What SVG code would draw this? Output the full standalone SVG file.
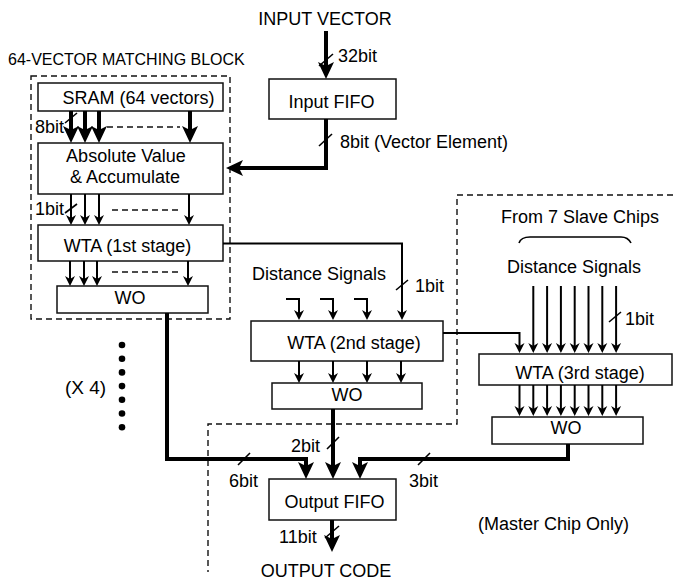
<svg xmlns="http://www.w3.org/2000/svg" width="673" height="582" viewBox="0 0 673 582">
<style>
text{font-family:"Liberation Sans",Arial,Helvetica,sans-serif;font-size:18px;fill:#000}
.box{fill:#fff;stroke:#111;stroke-width:1.5}
.dash{fill:none;stroke:#111;stroke-width:1.4;stroke-dasharray:6,4}
.thick{fill:none;stroke:#000;stroke-width:4;stroke-linejoin:miter}
.thin{fill:none;stroke:#000;stroke-width:2}
.tick{fill:none;stroke:#000;stroke-width:1.6}
.mid{text-anchor:middle}
</style>
<defs>
<marker id="ah" markerUnits="userSpaceOnUse" markerWidth="18" markerHeight="18" refX="7" refY="9" orient="auto">
<path d="M0,1 L17,9 L0,17 L4,9 z" fill="#000"/>
</marker>
<marker id="at" markerUnits="userSpaceOnUse" markerWidth="11" markerHeight="11" refX="4" refY="5.5" orient="auto">
<path d="M0,0.5 L10,5.5 L0,10.5 L3,5.5 z" fill="#000"/>
</marker>
</defs>
<rect width="673" height="582" fill="#fff"/>

<g id="matching-block">
<rect class="dash" x="31" y="76" width="199" height="243"/>
<text x="8" y="65" style="font-size:16px">64-VECTOR MATCHING BLOCK</text>
</g>
<g id="master-region">
<path class="dash" d="M673,195 H457 V424 H208 V572"/>
<text x="478" y="530">(Master Chip Only)</text>
</g>

<g id="sram">
<rect class="box" x="38" y="83" width="185" height="28"/>
<text class="mid" x="138.5" y="104">SRAM (64 vectors)</text>
</g>
<g id="absolute">
<rect class="box" x="38" y="143" width="185" height="51"/>
<text class="mid" x="126" y="162">Absolute Value</text>
<text class="mid" x="125" y="183">&amp; Accumulate</text>
</g>
<g id="wta1">
<rect class="box" x="38" y="225" width="185" height="36"/>
<text class="mid" x="127.5" y="252">WTA (1st stage)</text>
</g>
<g id="wo1">
<rect class="box" x="57" y="286" width="151" height="27"/>
<text class="mid" x="130" y="304">WO</text>
</g>
<g id="input-fifo">
<rect class="box" x="269" y="79" width="127" height="40"/>
<text class="mid" x="331.5" y="108">Input FIFO</text>
</g>
<g id="wta2">
<rect class="box" x="251" y="321" width="192" height="40"/>
<text class="mid" x="354" y="349">WTA (2nd stage)</text>
</g>
<g id="wo2">
<rect class="box" x="272" y="383" width="150" height="26"/>
<text class="mid" x="347" y="401">WO</text>
</g>
<g id="wta3">
<rect class="box" x="479" y="354" width="193" height="31"/>
<text class="mid" x="580" y="379">WTA (3rd stage)</text>
</g>
<g id="wo3">
<rect class="box" x="492" y="417" width="151" height="27"/>
<text class="mid" x="566" y="434">WO</text>
</g>
<g id="output-fifo">
<rect class="box" x="269" y="479" width="127" height="41"/>
<text class="mid" x="334.5" y="508">Output FIFO</text>
</g>
<g id="input-vector">
<text class="mid" x="325" y="25">INPUT VECTOR</text>
</g>
<g id="output-code">
<text class="mid" x="326" y="577">OUTPUT CODE</text>
</g>
<g id="slave-chips">
<text class="mid" x="580" y="223">From 7 Slave Chips</text>
<path class="tick" d="M519,243 Q521,237 530,237 H621 Q628,237 631,243"/>
</g>
<g id="repeat">
<text x="65" y="394" style="font-size:19px">(X 4)</text>
<g fill="#000">
<circle cx="122" cy="345" r="3.3"/>
<circle cx="122" cy="358.7" r="3.3"/>
<circle cx="122" cy="372.4" r="3.3"/>
<circle cx="122" cy="386.1" r="3.3"/>
<circle cx="122" cy="399.8" r="3.3"/>
<circle cx="122" cy="413.5" r="3.3"/>
<circle cx="122" cy="427.2" r="3.3"/>
</g>
</g>

<g id="connectors">
<path class="thick" d="M326,31 V69" marker-end="url(#ah)"/>
<path class="tick" d="M319,66 L333,54"/>
<text x="338" y="62">32bit</text>
<path class="thick" d="M326,119 V168 H236" marker-end="url(#ah)"/>
<path class="tick" d="M319,146 L332,134"/>
<text x="340" y="148">8bit (Vector Element)</text>
<path class="thick" d="M71,111 V133" marker-end="url(#ah)"/>
<path class="thick" d="M85,111 V133" marker-end="url(#ah)"/>
<path class="thick" d="M99,111 V133" marker-end="url(#ah)"/>
<path class="thick" d="M190,111 V133" marker-end="url(#ah)"/>
<path class="dash" d="M107,127 H180" style="stroke-width:1.6"/>
<path class="tick" d="M65,123 L77,113"/>
<text x="35" y="133">8bit</text>
<path class="thin" d="M71,194 V219" marker-end="url(#at)"/>
<path class="thin" d="M85,194 V219" marker-end="url(#at)"/>
<path class="thin" d="M99,194 V219" marker-end="url(#at)"/>
<path class="thin" d="M189,194 V219" marker-end="url(#at)"/>
<path class="dash" d="M112,210 H180" style="stroke-width:1.6"/>
<path class="tick" d="M65,213 L77,204"/>
<text x="35" y="215">1bit</text>
<path class="thin" d="M70,261 V280" marker-end="url(#at)"/>
<path class="thin" d="M84,261 V280" marker-end="url(#at)"/>
<path class="thin" d="M97,261 V280" marker-end="url(#at)"/>
<path class="thin" d="M188,261 V280" marker-end="url(#at)"/>
<path class="dash" d="M112,272 H180" style="stroke-width:1.6"/>
<path class="thin" d="M223,243.5 H402 V314" marker-end="url(#at)"/>
<path class="tick" d="M396,290 L408,280"/>
<text x="415" y="292">1bit</text>
<text class="mid" x="319" y="280">Distance Signals</text>
<path class="thin" d="M286,299 H299 V314" marker-end="url(#at)"/>
<path class="thin" d="M320,299 H333 V314" marker-end="url(#at)"/>
<path class="thin" d="M354,299 H367 V314" marker-end="url(#at)"/>
<path class="thin" d="M299,361 V377" marker-end="url(#at)"/>
<path class="thin" d="M333,361 V377" marker-end="url(#at)"/>
<path class="thin" d="M367,361 V377" marker-end="url(#at)"/>
<path class="thin" d="M401,361 V377" marker-end="url(#at)"/>
<path class="thin" d="M443,333 H519.5 V347" marker-end="url(#at)"/>
<text class="mid" x="574" y="273">Distance Signals</text>
<path class="thin" d="M533.3,286 V347" marker-end="url(#at)"/>
<path class="thin" d="M547.1,286 V347" marker-end="url(#at)"/>
<path class="thin" d="M560.9,286 V347" marker-end="url(#at)"/>
<path class="thin" d="M574.7,286 V347" marker-end="url(#at)"/>
<path class="thin" d="M588.5,286 V347" marker-end="url(#at)"/>
<path class="thin" d="M602.3,286 V347" marker-end="url(#at)"/>
<path class="thin" d="M616.1,286 V347" marker-end="url(#at)"/>
<path class="tick" d="M609,322 L621,312"/>
<text x="625" y="325">1bit</text>
<path class="thin" d="M519.5,385 V410" marker-end="url(#at)"/>
<path class="thin" d="M533.3,385 V410" marker-end="url(#at)"/>
<path class="thin" d="M547.1,385 V410" marker-end="url(#at)"/>
<path class="thin" d="M560.9,385 V410" marker-end="url(#at)"/>
<path class="thin" d="M574.7,385 V410" marker-end="url(#at)"/>
<path class="thin" d="M588.5,385 V410" marker-end="url(#at)"/>
<path class="thin" d="M602.3,385 V410" marker-end="url(#at)"/>
<path class="thin" d="M616.1,385 V410" marker-end="url(#at)"/>
<path class="thick" d="M167,313 V459 H306 V469" marker-end="url(#ah)"/>
<path class="tick" d="M238,465 L250,453"/>
<text x="229" y="487">6bit</text>
<path class="thick" d="M333,409 V469" marker-end="url(#ah)"/>
<path class="tick" d="M327,449 L339,437"/>
<text x="291" y="452">2bit</text>
<path class="thick" d="M568,444 V459 H360 V469" marker-end="url(#ah)"/>
<path class="tick" d="M418,465 L430,453"/>
<text x="409" y="487">3bit</text>
<path class="thick" d="M332,520 V542" marker-end="url(#ah)"/>
<path class="tick" d="M325,538 L339,526"/>
<text x="279" y="543">11bit</text>
</g>
</svg>
